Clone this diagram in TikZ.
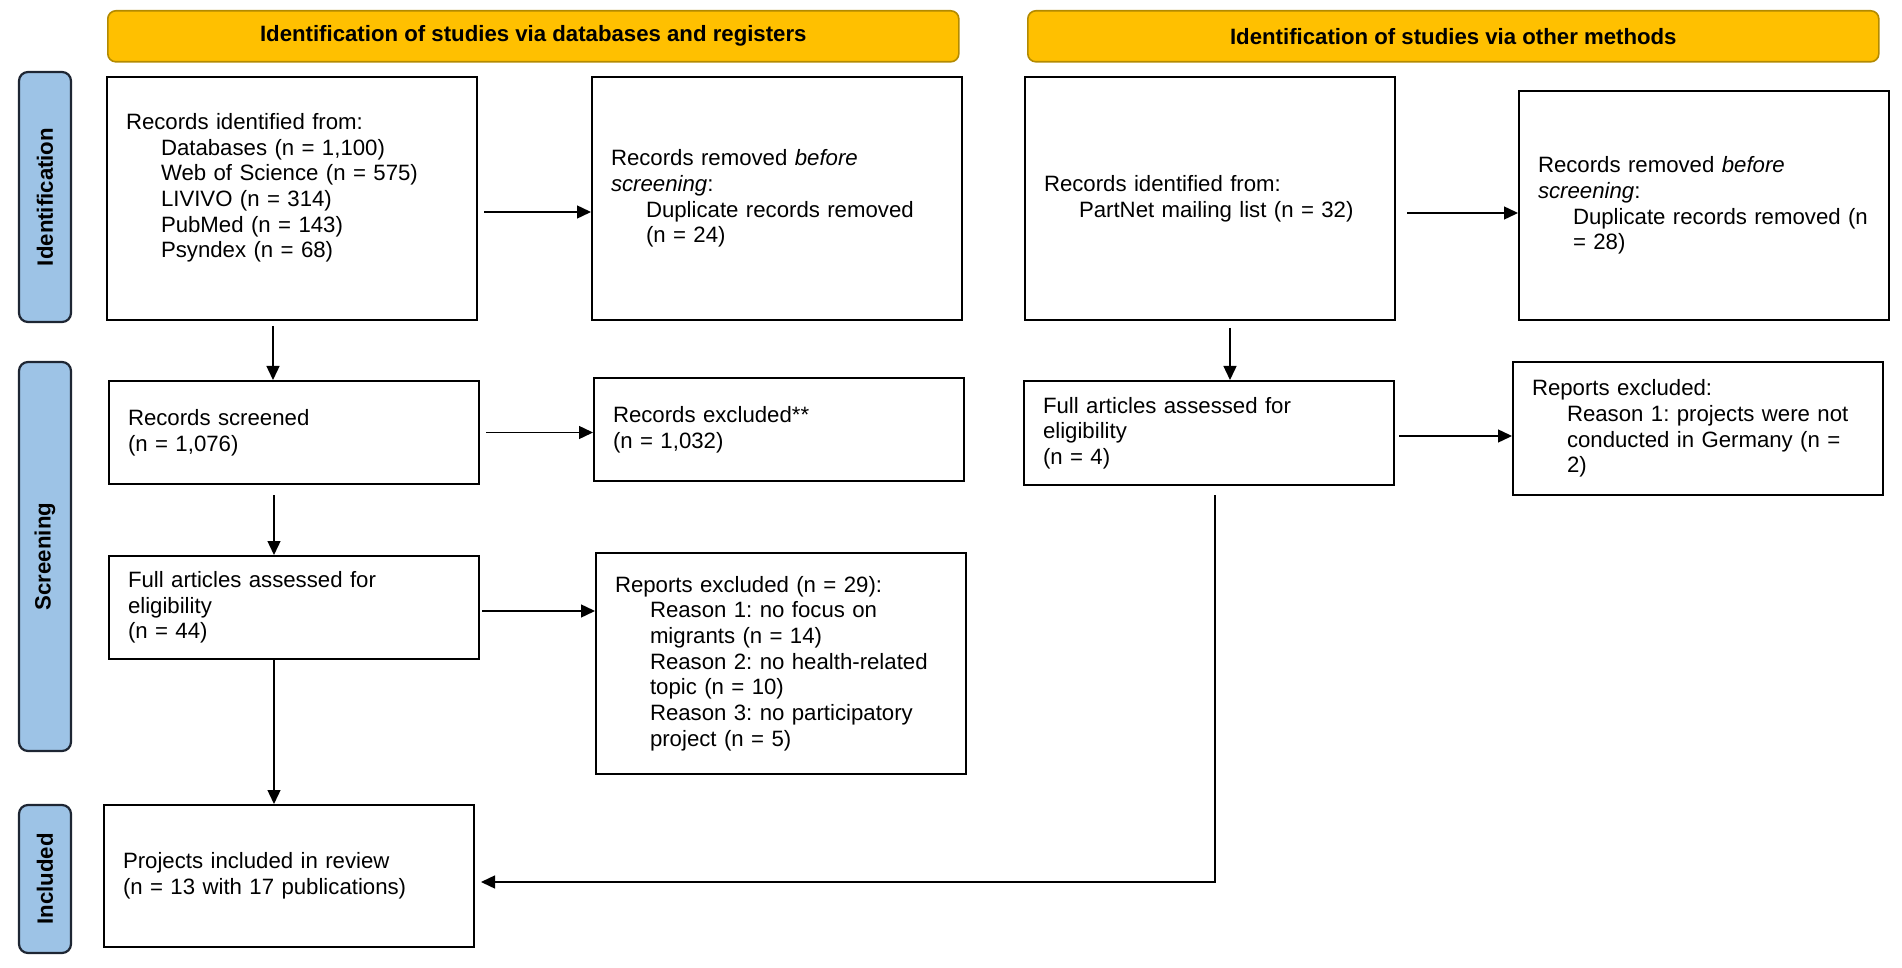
\documentclass[tikz,border=0pt]{standalone}
\usepackage{fontspec}
\setmainfont{Liberation Sans}
\usetikzlibrary{positioning,arrows.meta}

\definecolor{gold}{HTML}{FFC000}
\definecolor{golddark}{HTML}{B38A00}
\definecolor{phasefill}{HTML}{9DC3E6}
\definecolor{phasedraw}{HTML}{1E2633}
\newcommand{\ind}{\hspace*{17.5pt}}
\frenchspacing

\begin{document}
\begin{tikzpicture}[x=0.5pt, y=-0.5pt, font=\fontsize{11.1}{12.85}\selectfont,
    kasten/.style={draw, line width=1pt, anchor=north west, align=left,
                   text width=166pt, inner xsep=9.5pt, inner ysep=0pt},
    kopf/.style={draw=golddark, fill=gold, line width=0.8pt, rounded corners=4pt,
                 anchor=north west, minimum width=425.5pt, minimum height=25.5pt,
                 font=\fontsize{11.1}{12.85}\selectfont\bfseries},
    phase/.style={draw=phasedraw, fill=phasefill, line width=1.1pt, rounded corners=4.5pt,
                  rotate=90, minimum height=26pt, inner sep=0pt,
                  font=\fontsize{11.1}{12.85}\selectfont\bfseries},
    pfeil/.style={-{Triangle[length=7pt,width=6.5pt]}, line width=0.7pt}]

\useasboundingbox (0,0) rectangle (1902,968);

% headers
\node[kopf] (dbhead) at (107,10) {Identification of studies via databases and registers};
\node[kopf] (otherhead) at (1027,10) {Identification of studies via other methods};

% phases
\node[phase, minimum width=125pt] (pIdent) at (45,197) {Identification};
\node[phase, minimum width=194.5pt] (pScreen) at (45,556.5) {Screening};
\node[phase, minimum width=74pt] (pIncl) at (45,879) {Included};

% left column
\node[kasten, minimum height=121.5pt] (recId) at (106,76)
  {Records identified from:\\
   \ind Databases (n = 1,100)\\
   \ind Web of Science (n = 575)\\
   \ind LIVIVO (n = 314)\\
   \ind PubMed (n = 143)\\
   \ind Psyndex (n = 68)\\ \mbox{}};
\node[kasten, minimum height=121.5pt] (recRem) at (591,76)
  {Records removed \emph{before}\\
   \emph{screening}:\\
   \ind Duplicate records removed\\
   \ind (n = 24)};
\node[kasten, minimum height=51.5pt] (recScr) at (108,380)
  {Records screened\\ (n = 1,076)};
\node[kasten, minimum height=51.5pt] (recExc) at (593,377)
  {Records excluded**\\ (n = 1,032)};
\node[kasten, minimum height=51.5pt] (fullDb) at (108,555)
  {Full articles assessed for\\ eligibility\\ (n = 44)};
\node[kasten, minimum height=110.5pt] (repExc) at (595,552)
  {Reports excluded (n = 29):\\
   \ind Reason 1: no focus on\\
   \ind migrants (n = 14)\\
   \ind Reason 2: no health-related\\
   \ind topic (n = 10)\\
   \ind Reason 3: no participatory\\
   \ind project (n = 5)};
\node[kasten, minimum height=71pt] (incl) at (103,804)
  {Projects included in review\\ (n = 13 with 17 publications)};

% right column
\node[kasten, minimum height=121.5pt] (recOth) at (1024,76)
  {Records identified from:\\
   \ind PartNet mailing list (n = 32)};
\node[kasten, minimum height=114.5pt] (recRemOth) at (1518,90)
  {Records removed \emph{before}\\
   \emph{screening}:\\
   \ind Duplicate records removed (n\\
   \ind = 28)};
\node[kasten, minimum height=52pt] (fullOth) at (1023,380)
  {Full articles assessed for\\ eligibility\\ (n = 4)};
\node[kasten, minimum height=66.5pt] (repExcOth) at (1512,361)
  {Reports excluded:\\
   \ind Reason 1: projects were not\\
   \ind conducted in Germany (n =\\
   \ind 2)};

% connectors
\coordinate (a1) at ([yshift=-6.75pt]recId.east);
\coordinate (a2) at ([xshift=-9.5pt]recId.south);
\coordinate (c2) at ([xshift=-10pt]recScr.south);
\coordinate (e1) at ([yshift=-1.75pt]fullDb.east);
\coordinate (e2) at ([xshift=-10pt]fullDb.south);
\coordinate (h1) at ([yshift=-7.25pt]recOth.east);
\coordinate (h2) at ([xshift=10pt]recOth.south);
\coordinate (j1) at ([yshift=-1.5pt]fullOth.east);
\coordinate (j2) at ([xshift=3pt]fullOth.south);
\coordinate (g1) at ([yshift=-3pt]incl.east);

\draw[pfeil, shorten <=3pt] (a1) -- (a1 -| recRem.west);
\draw[pfeil, shorten <=2.5pt] (a2) -- (a2 |- recScr.north);
\draw[pfeil, shorten <=3pt] (recScr.east) -- (recScr.east -| recExc.west);
\draw[pfeil, shorten <=5pt] (c2) -- (c2 |- fullDb.north);
\draw[pfeil, shorten <=1pt] (e1) -- (e1 -| repExc.west);
\draw[pfeil] (e2) -- (e2 |- incl.north);
\draw[pfeil, shorten <=5.5pt] (h1) -- (h1 -| recRemOth.west);
\draw[pfeil, shorten <=3.5pt] (h2) -- (h2 |- fullOth.north);
\draw[pfeil, shorten <=2pt] (j1) -- (j1 -| repExcOth.west);
\draw[pfeil, shorten <=4.5pt, shorten >=3pt] (j2) -- (j2 |- g1) -- (g1);
\end{tikzpicture}
\end{document}
